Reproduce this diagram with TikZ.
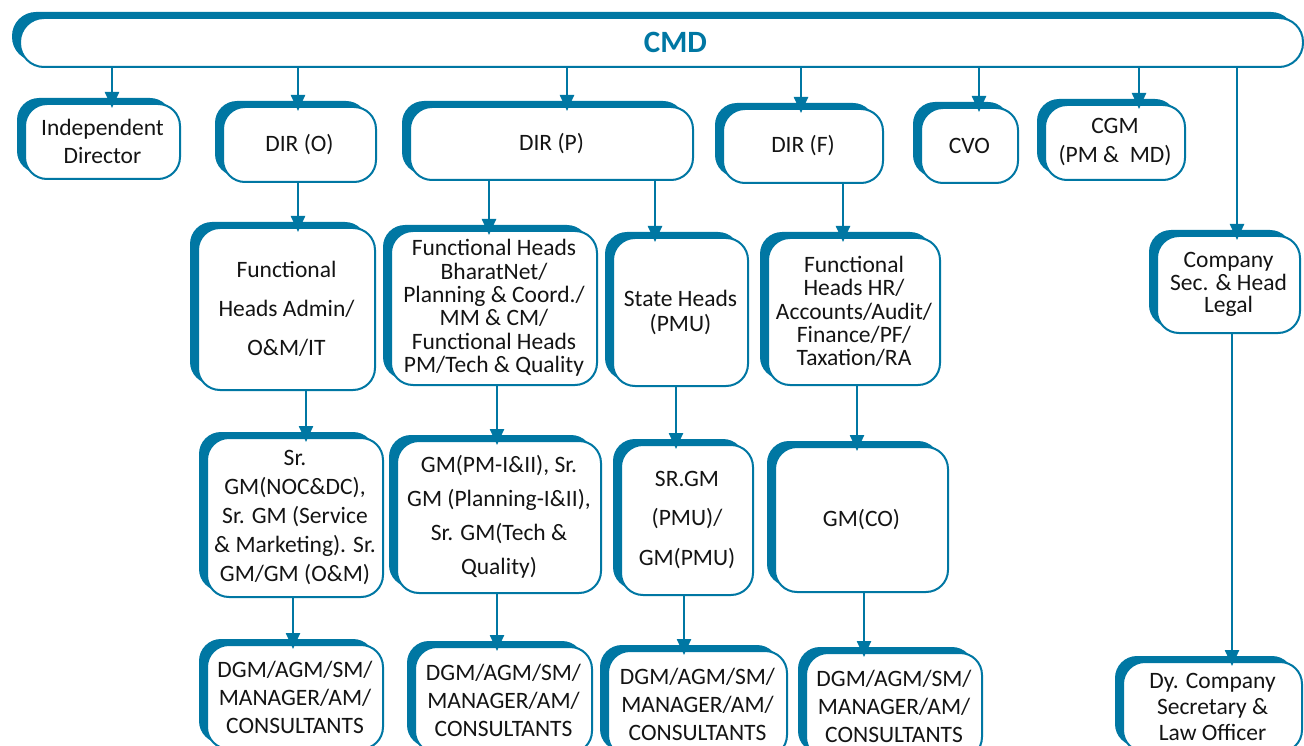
\documentclass[tikz,border=0pt]{standalone}
\usepackage{fontspec}
\setmainfont{Carlito}
\usetikzlibrary{arrows.meta,shadows}
\definecolor{orgblue}{RGB}{0,119,163}

\begin{document}
\begin{tikzpicture}[x=1pt,y=-1pt,line cap=round,line join=round,
    box/.style={draw=orgblue,line width=2pt,fill=white,rounded corners=22pt,
      general shadow={fill=orgblue,shadow xshift=-8pt,shadow yshift=6pt},
      align=center,inner sep=0pt,text=black!92,font=\fontsize{23.5}{#1}\selectfont},
    box/.default=28,
    arr/.style={draw=orgblue,line width=2.4pt,-{Triangle[length=16pt,width=14pt]},shorten >=-5pt}]
    \useasboundingbox (0,0) rectangle (1304,746);

    \node[box,rounded corners=24pt,minimum width=1283pt,minimum height=49pt,
      font=\fontsize{31}{31}\bfseries\selectfont,text=orgblue] (cmd) at (661.5,42.5) {\hspace*{28pt}CMD};

    \node[box,minimum width=155pt,minimum height=75pt] (ind) at (102.5,141.5) {Independent\\Director};
    \node[box,minimum width=153pt,minimum height=75pt] (diro) at (299.5,144.5) {DIR (O)};
    \node[box,minimum width=283pt,minimum height=73pt] (dirp) at (551.5,143.5) {DIR (P)};
    \node[box,minimum width=160pt,minimum height=74pt] (dirf) at (803,146) {DIR (F)};
    \node[box,minimum width=97pt,minimum height=75pt] (cvo) at (969.5,145.5) {CVO};
    \node[box=29,minimum width=140pt,minimum height=75pt] (cgm) at (1115,142.5) {CGM\\(PM \&\ \ MD)};

    \node[box=39,minimum width=177pt,minimum height=162pt] (fadm) at (286.5,309) {Functional\\Heads Admin/\\O\&M/IT};
    \node[box=23.4,minimum width=206pt,minimum height=154pt] (fbn) at (494,308)
      {Functional Heads\\BharatNet/\\Planning \& Coord./\\MM \& CM/\\Functional Heads\\PM/Tech \& Quality};
    \node[box=25,minimum width=135pt,minimum height=148pt] (sth) at (680.5,312) {State Heads\\(PMU)};
    \node[box=23.3,minimum width=172pt,minimum height=147pt] (fhr) at (854,311.5)
      {Functional\\Heads HR/\\Accounts/Audit/\\Finance/PF/\\Taxation/RA};
    \node[box=22.5,minimum width=143pt,minimum height=97pt] (csec) at (1228.5,284.5) {Company\\Sec. \& Head\\Legal};

    \node[box=28.8,minimum width=176pt,minimum height=159pt] (srgm) at (295,517.5)
      {Sr.\\GM(NOC\&DC),\\Sr. GM (Service\\\& Marketing). Sr.\\GM/GM (O\&M)};
    \node[box=34,minimum width=204pt,minimum height=152pt] (gmpm) at (499,517)
      {GM(PM-I\&II), Sr.\\GM (Planning-I\&II),\\Sr. GM(Tech \&\\Quality)};
    \node[box=39.5,minimum width=132pt,minimum height=150pt] (pmu) at (687,520) {SR.GM\\(PMU)/\\GM(PMU)};
    \node[box,minimum width=173pt,minimum height=145pt] (gmco) at (861.5,519.5) {GM(CO)};

    \node[box,minimum width=176pt,minimum height=104pt] (dgma) at (295,697) {DGM/AGM/SM/\\MANAGER/AM/\\CONSULTANTS};
    \node[box,minimum width=177pt,minimum height=106pt] (dgmb) at (503.5,700) {DGM/AGM/SM/\\MANAGER/AM/\\CONSULTANTS};
    \node[box,minimum width=179pt,minimum height=106pt] (dgmc) at (697.5,704) {DGM/AGM/SM/\\MANAGER/AM/\\CONSULTANTS};
    \node[box,minimum width=176pt,minimum height=106pt] (dgmd) at (894,706) {DGM/AGM/SM/\\MANAGER/AM/\\CONSULTANTS};
    \node[box=26,minimum width=179pt,minimum height=90pt] (dy) at (1212.5,707) {Dy. Company\\Secretary \&\\Law Officer};

    \draw[arr] (cmd.south -| 112,0) -- (ind.north -| 112,0);
    \draw[arr] (cmd.south -| 298,0) -- (diro.north -| 298,0);
    \draw[arr] (cmd.south -| 567,0) -- (dirp.north -| 567,0);
    \draw[arr] (cmd.south -| 801,0) -- (dirf.north -| 801,0);
    \draw[arr] (cmd.south -| 979,0) -- (cvo.north -| 979,0);
    \draw[arr] (cmd.south -| 1139,0) -- (cgm.north -| 1139,0);
    \draw[arr] (cmd.south -| 1237,0) -- (csec.north -| 1237,0);

    \draw[arr] (diro.south -| 298,0) -- (fadm.north -| 298,0);
    \draw[arr] (dirp.south -| 489,0) -- (fbn.north -| 489,0);
    \draw[arr] (dirp.south -| 655,0) -- (sth.north -| 655,0);
    \draw[arr] (dirf.south -| 843,0) -- (fhr.north -| 843,0);

    \draw[arr] (fadm.south -| 306,0) -- (srgm.north -| 306,0);
    \draw[arr] (fbn.south -| 497,0) -- (gmpm.north -| 497,0);
    \draw[arr] (sth.south -| 676,0) -- (pmu.north -| 676,0);
    \draw[arr] (fhr.south -| 857,0) -- (gmco.north -| 857,0);

    \draw[arr] (srgm.south -| 293,0) -- (dgma.north -| 293,0);
    \draw[arr] (gmpm.south -| 497,0) -- (dgmb.north -| 497,0);
    \draw[arr] (pmu.south -| 684,0) -- (dgmc.north -| 684,0);
    \draw[arr] (gmco.south -| 864,0) -- (dgmd.north -| 864,0);
    \draw[arr] (csec.south -| 1232,0) -- (dy.north -| 1232,0);
  \end{tikzpicture}
\end{document}
